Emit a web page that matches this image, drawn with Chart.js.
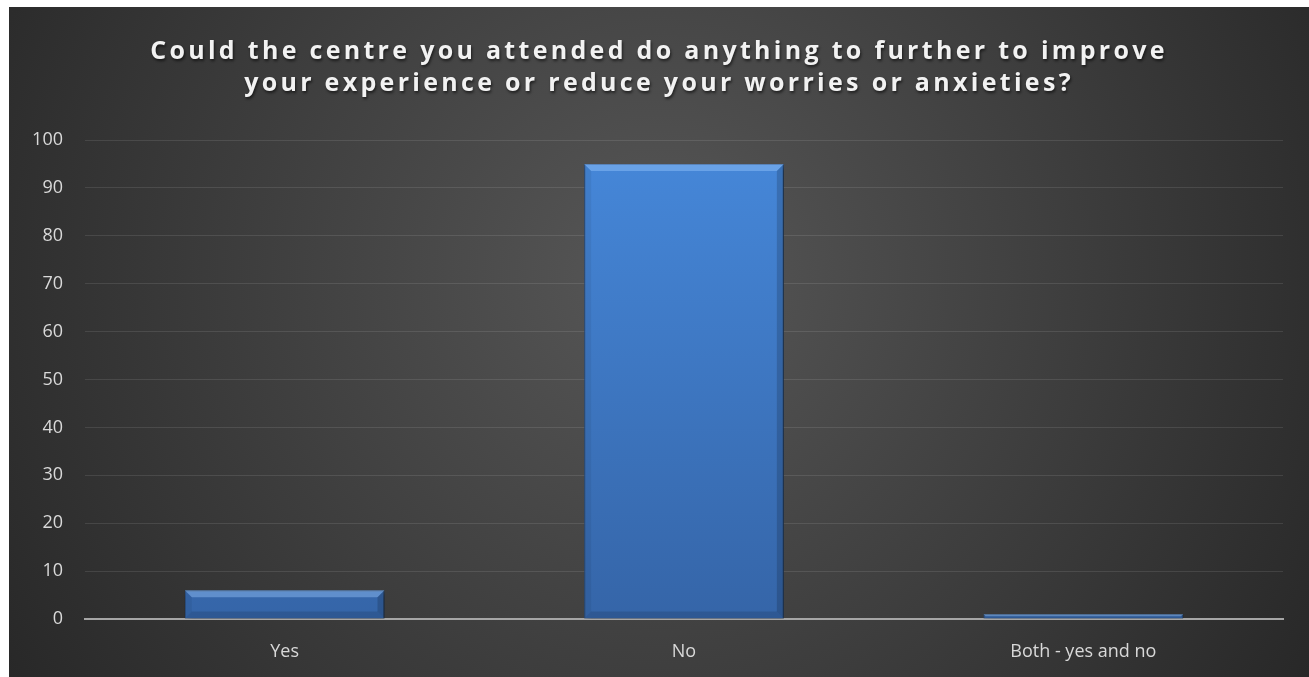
<!DOCTYPE html>
<html>
<head>
    <title></title>
    <meta charset="utf-8" />
    <style>
        body { margin: 0; background: #fff; }
        #box { position: absolute; left: 9px; top: 7px; width: 1300px; height: 670px; }
    </style>
    <script src="https://cdn.jsdelivr.net/npm/chart.js"></script>
</head>
<body>
<div id="box"><canvas id="myChart"></canvas></div>
<script>
// data
let categories = ['Yes', 'No', 'Both - yes and no'];
let answers = [6, 95, 1];
let titleLines = ['Could the centre you attended do anything to further to improve',
                  'your experience or reduce your worries or anxieties?'];

// dark radial background + spaced bold title
let backdrop = {
    id: 'backdrop',
    beforeDraw(chart) {
        let ctx = chart.ctx, w = chart.width, h = chart.height;
        ctx.save();
        let g = ctx.createRadialGradient(w * 0.5, h * 0.4, 0, w * 0.5, h * 0.4, w * 0.6);
        g.addColorStop(0, '#575757');
        g.addColorStop(1, '#272727');
        ctx.fillStyle = g;
        ctx.fillRect(0, 0, w, h);

        ctx.font = 'bold 25px "Open Sans"';
        ctx.letterSpacing = '3.3px';
        ctx.textAlign = 'center';
        ctx.textBaseline = 'middle';
        ctx.fillStyle = '#f2f2f2';
        ctx.shadowColor = 'rgba(0,0,0,0.6)';
        ctx.shadowBlur = 3;
        ctx.shadowOffsetX = 1;
        ctx.shadowOffsetY = 2;
        ctx.fillText(titleLines[0], w / 2, 45);
        ctx.fillText(titleLines[1], w / 2, 77);
        ctx.restore();
    },
    beforeDatasetsDraw(chart) {
        let ctx = chart.ctx;
        ctx.save();
        ctx.shadowColor = 'rgba(0,0,0,0.55)';
        ctx.shadowBlur = 6;
        ctx.shadowOffsetX = 2;
        ctx.shadowOffsetY = 2;
    },
    afterDatasetsDraw(chart) {
        let ctx = chart.ctx;
        ctx.restore();
        // bevel on each bar
        chart.getDatasetMeta(0).data.forEach(bar => {
            let L = bar.x - bar.width / 2, R = bar.x + bar.width / 2;
            let T = bar.y, B = bar.base;
            let b = Math.min(7, (B - T) / 2);
            if (b < 1) return;
            ctx.save();
            ctx.fillStyle = 'rgba(160,205,255,0.4)';
            ctx.beginPath();
            ctx.moveTo(L, T); ctx.lineTo(R, T); ctx.lineTo(R - b, T + b); ctx.lineTo(L + b, T + b);
            ctx.closePath(); ctx.fill();
            ctx.fillStyle = 'rgba(0,0,0,0.06)';
            ctx.beginPath();
            ctx.moveTo(L, T); ctx.lineTo(L + b, T + b); ctx.lineTo(L + b, B - b); ctx.lineTo(L, B);
            ctx.closePath(); ctx.fill();
            ctx.fillStyle = 'rgba(0,0,0,0.16)';
            ctx.beginPath();
            ctx.moveTo(R, T); ctx.lineTo(R - b, T + b); ctx.lineTo(R - b, B - b); ctx.lineTo(R, B);
            ctx.closePath(); ctx.fill();
            ctx.fillStyle = 'rgba(0,0,0,0.12)';
            ctx.beginPath();
            ctx.moveTo(L, B); ctx.lineTo(L + b, B - b); ctx.lineTo(R - b, B - b); ctx.lineTo(R, B);
            ctx.closePath(); ctx.fill();
            ctx.restore();
        });
    }
};

function barFill(context) {
    let area = context.chart.chartArea;
    if (!area) return '#4283d4';
    let g = context.chart.ctx.createLinearGradient(0, area.top, 0, area.bottom);
    g.addColorStop(0, '#4688da');
    g.addColorStop(1, '#3565a8');
    return g;
}

let ctx = document.getElementById('myChart').getContext('2d');
let myChart = new Chart(ctx, {
    type: 'bar',
    data: {
        labels: categories,
        datasets: [{
            data: answers,
            backgroundColor: barFill,
            borderColor: '#2f5e9c',
            borderWidth: 1,
            categoryPercentage: 1,
            barPercentage: 0.5
        }]
    },
    options: {
        responsive: true,
        maintainAspectRatio: false,
        animation: false,
        layout: { padding: { top: 133, right: 26, bottom: 0, left: 0 } },
        plugins: {
            legend: { display: false },
            tooltip: { enabled: false }
        },
        scales: {
            x: {
                grid: { display: false },
                border: { color: '#a6a6a6', width: 2 },
                ticks: { color: '#d9d9d9', padding: 14, font: { family: '"Open Sans"', size: 18 } },
                afterFit(scale) { scale.height = 58; }
            },
            y: {
                min: 0,
                max: 100,
                ticks: { stepSize: 10, color: '#d9d9d9', padding: 22, font: { family: '"Open Sans"', size: 18 } },
                grid: { color: 'rgba(255,255,255,0.1)', drawTicks: false },
                border: { display: false },
                afterFit(scale) { scale.width = 76; }
            }
        }
    },
    plugins: [backdrop]
});
</script>
</body>
</html>
